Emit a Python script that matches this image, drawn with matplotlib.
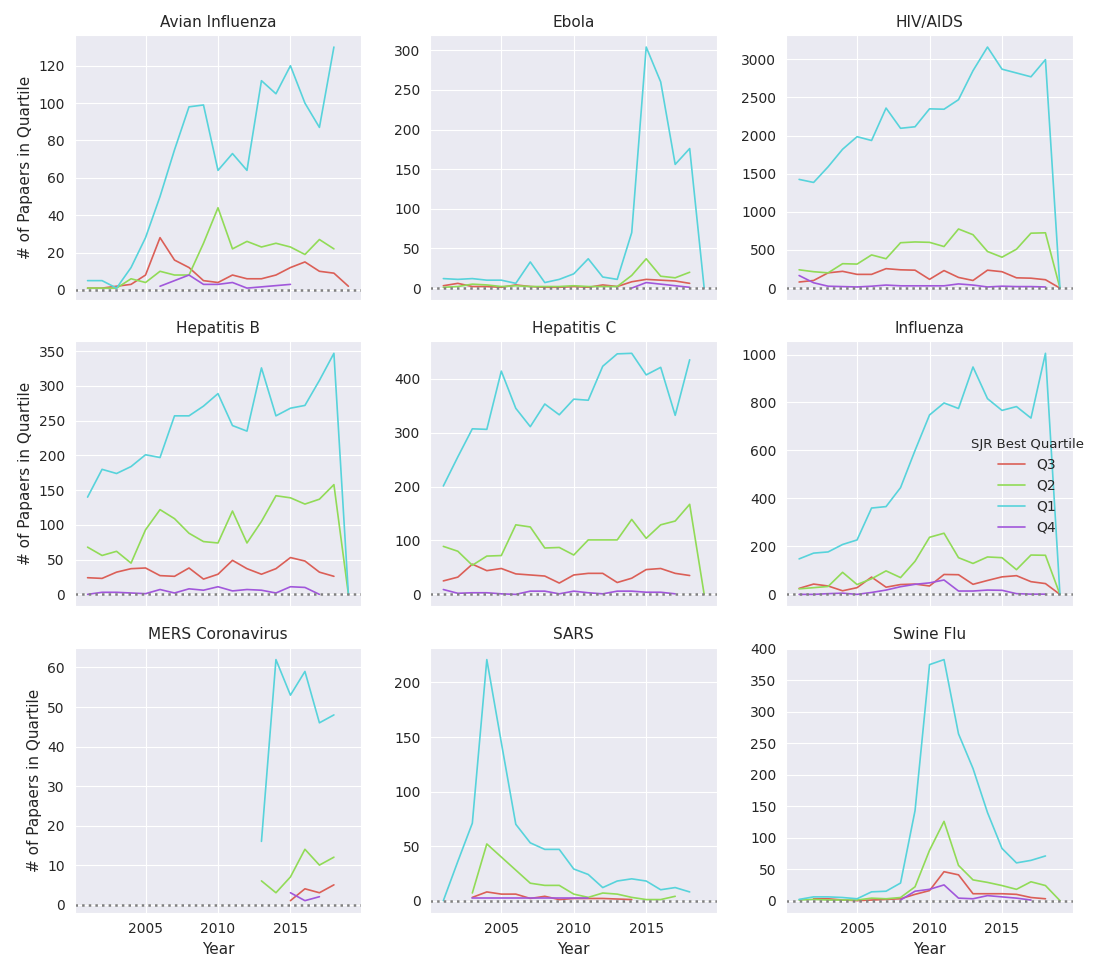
import numpy as np
import matplotlib
matplotlib.use("Agg")
import matplotlib.pyplot as plt
import seaborn as sns

N = np.nan
YEARS = list(range(2001, 2020))
QUARTILES = ["Q3", "Q2", "Q1", "Q4"]
DISEASES = ["Avian Influenza", "Ebola", "HIV/AIDS",
            "Hepatitis B", "Hepatitis C", "Influenza",
            "MERS Coronavirus", "SARS", "Swine Flu"]

# papers per year (2001..2019), NaN = no papers in that quartile
avian_q3 = [1, 1, 2, 3, 8, 28, 16, 12, 5, 4, 8, 6, 6, 8, 12, 15, 10, 9, 2]
avian_q2 = [1, 1, 1, 6, 4, 10, 8, 8, 25, 44, 22, 26, 23, 25, 23, 19, 27, 22, N]
avian_q1 = [5, 5, 1, 12, 28, 50, 75, 98, 99, 64, 73, 64, 112, 105, 120, 100, 87, 130, N]
avian_q4 = [N, N, N, N, N, 2, 5, 8, 3, 3, 4, 1, N, N, 3, N, N, N, N]

ebola_q3 = [3, 6, 2, 2, 1, 4, 2, 1, 1, 2, 1, 4, 2, 8, 11, 10, 9, 6, N]
ebola_q2 = [1, 2, 5, 4, 2, 3, 2, 2, 2, 3, 2, 2, 2, 16, 37, 15, 13, 20, N]
ebola_q1 = [12, 11, 12, 10, 10, 6, 33, 7, 11, 18, 37, 14, 11, 70, 304, 260, 156, 176, 0]
ebola_q4 = [N, N, N, N, N, N, N, N, N, N, N, N, N, 0, 7, 5, 3, 1, N]

hiv_q3 = [80, 100, 200, 220, 180, 180, 255, 240, 235, 115, 230, 140, 100, 235, 215, 135, 130, 110, 0]
hiv_q2 = [240, 215, 200, 320, 315, 435, 385, 595, 605, 600, 545, 775, 700, 480, 405, 510, 720, 725, 0]
hiv_q1 = [1425, 1385, 1590, 1820, 1985, 1935, 2360, 2095, 2115, 2350, 2345, 2470,
          2850, 3160, 2870, 2820, 2770, 2995, 0]
hiv_q4 = [165, 70, 25, 20, 15, 25, 40, 30, 30, 30, 30, 55, 40, 15, 25, 20, 20, 15, N]

hepb_q3 = [24, 23, 32, 37, 38, 27, 26, 38, 22, 29, 49, 37, 29, 37, 53, 48, 32, 26, N]
hepb_q2 = [68, 56, 62, 45, 93, 122, 109, 88, 76, 74, 120, 74, 105, 142, 139, 130, 137, 158, 0]
hepb_q1 = [140, 180, 174, 184, 201, 197, 257, 257, 271, 289, 243, 235, 326, 257, 268, 272, 308, 347, 0]
hepb_q4 = [0, 3, 3, 2, 1, 7, 2, 8, 6, 11, 5, 7, 6, 2, 11, 10, 0, N, N]

hepc_q3 = [25, 32, 56, 44, 48, 38, 36, 34, 21, 36, 39, 39, 22, 30, 46, 48, 39, 35, N]
hepc_q2 = [89, 80, 54, 71, 72, 129, 125, 86, 87, 73, 101, 101, 101, 139, 104, 129, 136, 167, 0]
hepc_q1 = [201, 255, 307, 306, 414, 345, 311, 353, 333, 362, 360, 423, 446, 447, 407, 421, 332, 435, N]
hepc_q4 = [9, 2, 3, 3, 1, 0, 6, 6, 1, 6, 3, 1, 6, 6, 4, 4, 1, N, N]

flu_q3 = [25, 43, 35, 15, 28, 72, 30, 41, 43, 35, 83, 82, 42, 58, 73, 78, 53, 45, 0]
flu_q2 = [23, 28, 33, 92, 41, 65, 98, 70, 138, 238, 255, 153, 129, 156, 153, 103, 164, 163, 0]
flu_q1 = [148, 172, 177, 208, 227, 360, 366, 445, 600, 748, 798, 775, 948, 816, 767, 783, 735, 1005, 0]
flu_q4 = [0, 0, 3, 5, 0, 8, 18, 32, 42, 48, 60, 14, 14, 18, 17, 3, 1, 1, N]

mers_q3 = [N] * 14 + [1, 4, 3, 5, N]
mers_q2 = [N] * 12 + [6, 3, 7, 14, 10, 12, N]
mers_q1 = [N] * 12 + [16, 62, 53, 59, 46, 48, N]
mers_q4 = [N] * 14 + [3, 1, 2, N, N]

sars_q3 = [N, N, 3, 8, 6, 6, 2, 4, 1, 2, 2, 2, 1.5, 1, N, N, N, N, N]
sars_q2 = [N, N, 7, 52, 40, 28, 16, 14, 14, 6, 3, 7, 6, 3, 1, 1, 4, N, N]
sars_q1 = [0, 36, 71, 221, 145, 70, 53, 47, 47, 29, 24, 12, 18, 20, 18, 10, 12, 8, N]
sars_q4 = [N, N, 2, 2, 2, 2, 2, 2, 2, 2, 2, N, N, N, N, N, N, N, N]

swine_q3 = [N, 3, 3, 1, 0, 1, 2, 3, 10, 16, 46, 41, 11, 11, 11, 10, 5, 3, N]
swine_q2 = [1, 2, 1, 1, 1, 4, 3, 5, 22, 80, 126, 56, 33, 29, 24, 18, 30, 24, 0]
swine_q1 = [2, 6, 6, 5, 3, 14, 15, 28, 143, 375, 383, 265, 210, 140, 83, 60, 64, 71, N]
swine_q4 = [N, N, N, N, N, N, N, 1, 15, 18, 25, 4, 3, 8, 6, 4, 1, N, N]

series = {
    "Avian Influenza": [avian_q3, avian_q2, avian_q1, avian_q4],
    "Ebola": [ebola_q3, ebola_q2, ebola_q1, ebola_q4],
    "HIV/AIDS": [hiv_q3, hiv_q2, hiv_q1, hiv_q4],
    "Hepatitis B": [hepb_q3, hepb_q2, hepb_q1, hepb_q4],
    "Hepatitis C": [hepc_q3, hepc_q2, hepc_q1, hepc_q4],
    "Influenza": [flu_q3, flu_q2, flu_q1, flu_q4],
    "MERS Coronavirus": [mers_q3, mers_q2, mers_q1, mers_q4],
    "SARS": [sars_q3, sars_q2, sars_q1, sars_q4],
    "Swine Flu": [swine_q3, swine_q2, swine_q1, swine_q4],
}

sns.set_style("darkgrid")
colors = sns.color_palette("hls", 4)

fig, axes = plt.subplots(3, 3, figsize=(10.96, 9.72), dpi=100, sharex=True)
fig.subplots_adjust(left=0.068, right=0.979, bottom=0.061, top=0.964,
                    wspace=0.24, hspace=0.155)

years = np.array(YEARS)
for ax, name in zip(axes.flat, DISEASES):
    for q, vals, c in zip(QUARTILES, series[name], colors):
        v = np.array(vals, dtype=float)
        ok = ~np.isnan(v)
        ax.plot(years[ok], v[ok], color=c, lw=1.2, label=q)
    ax.axhline(0, color="gray", ls=":", lw=1.8)
    ax.set_title(name, fontsize=11)
    ax.tick_params(labelsize=10)
    ax.set_xlim(2000.1, 2019.9)
    ax.set_xticks([2005, 2010, 2015])

for ax in axes[:, 0]:
    ax.set_ylabel("# of Papaers in Quartile", fontsize=11)
for ax in axes[-1, :]:
    ax.set_xlabel("Year", fontsize=11)

handles, labels = axes[0, 0].get_legend_handles_labels()
fig.legend(handles, labels, title="SJR Best Quartile", loc="center right",
           bbox_to_anchor=(1.0, 0.5), frameon=False, fontsize=10, title_fontsize=9.5)

fig.savefig("out.png", dpi=100)
